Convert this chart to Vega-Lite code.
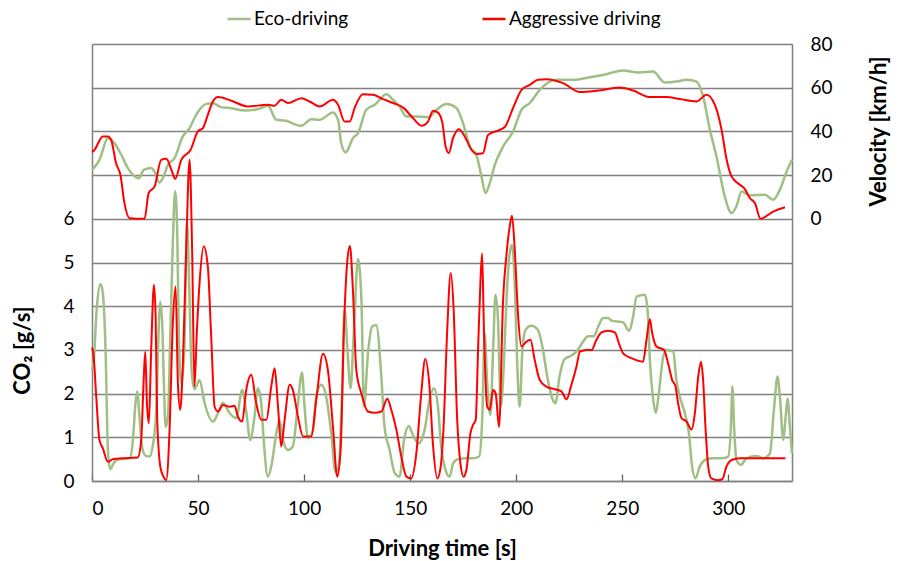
{
"$schema": "https://vega.github.io/schema/vega-lite/v6.json",
"width": 700, "height": 437,
"autosize": {"type": "none"},
"padding": {"left": 92, "top": 44, "right": 106, "bottom": 80},
"background": "white",
"config": {"view": {"stroke": null}, "font": "Lato",
 "axis": {"labelFont": "Lato", "titleFont": "Lato", "labelColor": "#000", "titleColor": "#000", "labelFontSize": 19, "titleFontSize": 22, "titleFontWeight": "bold"}},
"datasets": {
"ecoVel": [
{"t":0,"v":22.4,"s":"Eco-driving"},{"t":0.8,"v":23.2,"s":"Eco-driving"},{"t":3.5,"v":27,"s":"Eco-driving"},{"t":7.5,"v":36.9,"s":"Eco-driving"},{"t":10.6,"v":34.6,"s":"Eco-driving"},{"t":13.8,"v":29.3,"s":"Eco-driving"},{"t":16.9,"v":23.2,"s":"Eco-driving"},{"t":19.3,"v":20.1,"s":"Eco-driving"},{"t":22.1,"v":18.6,"s":"Eco-driving"},{"t":24.4,"v":22.4,"s":"Eco-driving"},{"t":27.9,"v":23.2,"s":"Eco-driving"},{"t":29.5,"v":21.5,"s":"Eco-driving"},{"t":31.8,"v":16.6,"s":"Eco-driving"},{"t":33.4,"v":18.6,"s":"Eco-driving"},{"t":35.8,"v":24.7,"s":"Eco-driving"},{"t":38.9,"v":27.8,"s":"Eco-driving"},{"t":42.8,"v":37.7,"s":"Eco-driving"},{"t":46,"v":41.5,"s":"Eco-driving"},{"t":48.3,"v":46.1,"s":"Eco-driving"},{"t":50.7,"v":49.9,"s":"Eco-driving"},{"t":53.9,"v":52.6,"s":"Eco-driving"},{"t":57,"v":52.9,"s":"Eco-driving"},{"t":60.9,"v":51.1,"s":"Eco-driving"},{"t":65.7,"v":50.6,"s":"Eco-driving"},{"t":71.9,"v":49.6,"s":"Eco-driving"},{"t":78.2,"v":50.2,"s":"Eco-driving"},{"t":82.9,"v":51.7,"s":"Eco-driving"},{"t":86.9,"v":45.3,"s":"Eco-driving"},{"t":90.8,"v":45,"s":"Eco-driving"},{"t":98.7,"v":42.6,"s":"Eco-driving"},{"t":103.4,"v":45.6,"s":"Eco-driving"},{"t":107.3,"v":45.3,"s":"Eco-driving"},{"t":113.6,"v":48.7,"s":"Eco-driving"},{"t":116,"v":45.3,"s":"Eco-driving"},{"t":117.5,"v":34.6,"s":"Eco-driving"},{"t":119.6,"v":30.4,"s":"Eco-driving"},{"t":123,"v":36.9,"s":"Eco-driving"},{"t":125.4,"v":39.2,"s":"Eco-driving"},{"t":129.3,"v":49.9,"s":"Eco-driving"},{"t":133.3,"v":52.2,"s":"Eco-driving"},{"t":138.8,"v":57,"s":"Eco-driving"},{"t":141.9,"v":54.5,"s":"Eco-driving"},{"t":145,"v":51.4,"s":"Eco-driving"},{"t":148.2,"v":46.8,"s":"Eco-driving"},{"t":152.1,"v":46.8,"s":"Eco-driving"},{"t":158.4,"v":46.5,"s":"Eco-driving"},{"t":162.4,"v":49.9,"s":"Eco-driving"},{"t":167.1,"v":52.5,"s":"Eco-driving"},{"t":171.8,"v":50.7,"s":"Eco-driving"},{"t":174.9,"v":43.8,"s":"Eco-driving"},{"t":178.1,"v":33.1,"s":"Eco-driving"},{"t":181.2,"v":29.3,"s":"Eco-driving"},{"t":183.6,"v":19.4,"s":"Eco-driving"},{"t":185.5,"v":11.8,"s":"Eco-driving"},{"t":187.5,"v":16.3,"s":"Eco-driving"},{"t":189.9,"v":24.7,"s":"Eco-driving"},{"t":193.8,"v":33.1,"s":"Eco-driving"},{"t":198.5,"v":40,"s":"Eco-driving"},{"t":202.5,"v":49.9,"s":"Eco-driving"},{"t":206.4,"v":53,"s":"Eco-driving"},{"t":211.1,"v":59,"s":"Eco-driving"},{"t":215,"v":62.4,"s":"Eco-driving"},{"t":219,"v":63.6,"s":"Eco-driving"},{"t":226.8,"v":63.6,"s":"Eco-driving"},{"t":234.7,"v":64.8,"s":"Eco-driving"},{"t":242.5,"v":66.2,"s":"Eco-driving"},{"t":250.4,"v":67.9,"s":"Eco-driving"},{"t":257.5,"v":67,"s":"Eco-driving"},{"t":264.5,"v":67.4,"s":"Eco-driving"},{"t":270,"v":62.4,"s":"Eco-driving"},{"t":275.6,"v":62.8,"s":"Eco-driving"},{"t":280.3,"v":63.6,"s":"Eco-driving"},{"t":285,"v":62.8,"s":"Eco-driving"},{"t":288.1,"v":56,"s":"Eco-driving"},{"t":291.3,"v":40.7,"s":"Eco-driving"},{"t":294.4,"v":28.5,"s":"Eco-driving"},{"t":298.3,"v":10.2,"s":"Eco-driving"},{"t":301.5,"v":2.6,"s":"Eco-driving"},{"t":303.9,"v":6,"s":"Eco-driving"},{"t":306.2,"v":12.5,"s":"Eco-driving"},{"t":310.1,"v":10.7,"s":"Eco-driving"},{"t":317.2,"v":11,"s":"Eco-driving"},{"t":321.1,"v":8.7,"s":"Eco-driving"},{"t":324.3,"v":13.3,"s":"Eco-driving"},{"t":327.5,"v":21.7,"s":"Eco-driving"},{"t":330,"v":27,"s":"Eco-driving"}
],
"aggVel": [
{"t":0,"v":30.7,"s":"Aggressive driving"},{"t":0.8,"v":31.1,"s":"Aggressive driving"},{"t":5.1,"v":37.7,"s":"Aggressive driving"},{"t":7.5,"v":37.7,"s":"Aggressive driving"},{"t":9,"v":36.2,"s":"Aggressive driving"},{"t":11.4,"v":25.2,"s":"Aggressive driving"},{"t":13.4,"v":20.1,"s":"Aggressive driving"},{"t":15.3,"v":7.2,"s":"Aggressive driving"},{"t":17.7,"v":0.3,"s":"Aggressive driving"},{"t":24.8,"v":0,"s":"Aggressive driving"},{"t":26.7,"v":11.8,"s":"Aggressive driving"},{"t":29.5,"v":14.8,"s":"Aggressive driving"},{"t":32.6,"v":27,"s":"Aggressive driving"},{"t":35,"v":27.5,"s":"Aggressive driving"},{"t":37.7,"v":21.7,"s":"Aggressive driving"},{"t":39.2,"v":18.2,"s":"Aggressive driving"},{"t":42.1,"v":27,"s":"Aggressive driving"},{"t":46.5,"v":31.6,"s":"Aggressive driving"},{"t":49.9,"v":40,"s":"Aggressive driving"},{"t":52.3,"v":41.5,"s":"Aggressive driving"},{"t":54.6,"v":47.6,"s":"Aggressive driving"},{"t":57,"v":53.7,"s":"Aggressive driving"},{"t":59.4,"v":55.7,"s":"Aggressive driving"},{"t":65.7,"v":54,"s":"Aggressive driving"},{"t":73.5,"v":51.4,"s":"Aggressive driving"},{"t":82.9,"v":52.2,"s":"Aggressive driving"},{"t":86,"v":51.7,"s":"Aggressive driving"},{"t":89.2,"v":54.5,"s":"Aggressive driving"},{"t":92.4,"v":53,"s":"Aggressive driving"},{"t":98.7,"v":55.2,"s":"Aggressive driving"},{"t":102.6,"v":53.7,"s":"Aggressive driving"},{"t":107.3,"v":51.4,"s":"Aggressive driving"},{"t":113.6,"v":54.5,"s":"Aggressive driving"},{"t":116,"v":52.2,"s":"Aggressive driving"},{"t":119.1,"v":44.5,"s":"Aggressive driving"},{"t":121.5,"v":44.5,"s":"Aggressive driving"},{"t":123.8,"v":50.7,"s":"Aggressive driving"},{"t":127.7,"v":57,"s":"Aggressive driving"},{"t":132.5,"v":56.8,"s":"Aggressive driving"},{"t":137.2,"v":54.8,"s":"Aggressive driving"},{"t":141.9,"v":53,"s":"Aggressive driving"},{"t":146.6,"v":51,"s":"Aggressive driving"},{"t":151.3,"v":46.1,"s":"Aggressive driving"},{"t":155.3,"v":42.6,"s":"Aggressive driving"},{"t":158.4,"v":44.5,"s":"Aggressive driving"},{"t":160.8,"v":49.4,"s":"Aggressive driving"},{"t":163.1,"v":48.6,"s":"Aggressive driving"},{"t":165.2,"v":43.8,"s":"Aggressive driving"},{"t":166.7,"v":33.1,"s":"Aggressive driving"},{"t":168.2,"v":30.1,"s":"Aggressive driving"},{"t":170.2,"v":36.9,"s":"Aggressive driving"},{"t":173,"v":41,"s":"Aggressive driving"},{"t":175.7,"v":37.7,"s":"Aggressive driving"},{"t":178.9,"v":31.6,"s":"Aggressive driving"},{"t":181.2,"v":29.7,"s":"Aggressive driving"},{"t":184.3,"v":30,"s":"Aggressive driving"},{"t":186.7,"v":38.4,"s":"Aggressive driving"},{"t":191.4,"v":40.4,"s":"Aggressive driving"},{"t":194.6,"v":42,"s":"Aggressive driving"},{"t":198.5,"v":50.7,"s":"Aggressive driving"},{"t":202.5,"v":59,"s":"Aggressive driving"},{"t":206.4,"v":61.3,"s":"Aggressive driving"},{"t":210.3,"v":63.6,"s":"Aggressive driving"},{"t":214.2,"v":63.9,"s":"Aggressive driving"},{"t":222.1,"v":62.1,"s":"Aggressive driving"},{"t":230,"v":58,"s":"Aggressive driving"},{"t":238.6,"v":58.7,"s":"Aggressive driving"},{"t":248.8,"v":60.1,"s":"Aggressive driving"},{"t":255.1,"v":58.7,"s":"Aggressive driving"},{"t":263,"v":55.7,"s":"Aggressive driving"},{"t":270.8,"v":55.7,"s":"Aggressive driving"},{"t":277.1,"v":54.8,"s":"Aggressive driving"},{"t":285,"v":53.7,"s":"Aggressive driving"},{"t":289.7,"v":56.8,"s":"Aggressive driving"},{"t":293.6,"v":52.2,"s":"Aggressive driving"},{"t":296.8,"v":40.7,"s":"Aggressive driving"},{"t":299.2,"v":27,"s":"Aggressive driving"},{"t":301.5,"v":19.4,"s":"Aggressive driving"},{"t":305.4,"v":15.6,"s":"Aggressive driving"},{"t":307.8,"v":13.6,"s":"Aggressive driving"},{"t":310.1,"v":9.5,"s":"Aggressive driving"},{"t":312.5,"v":7.2,"s":"Aggressive driving"},{"t":315.2,"v":0,"s":"Aggressive driving"},{"t":321.1,"v":3.3,"s":"Aggressive driving"},{"t":326.7,"v":5.3,"s":"Aggressive driving"}
],
"ecoCO2": [
{"t":0,"v":2.55,"s":"Eco-driving"},{"t":0.7,"v":2.69,"s":"Eco-driving"},{"t":2.3,"v":3.99,"s":"Eco-driving"},{"t":4,"v":4.51,"s":"Eco-driving"},{"t":5.1,"v":4.3,"s":"Eco-driving"},{"t":6.4,"v":3,"s":"Eco-driving"},{"t":7.5,"v":0.71,"s":"Eco-driving"},{"t":8.6,"v":0.27,"s":"Eco-driving"},{"t":10.6,"v":0.44,"s":"Eco-driving"},{"t":13,"v":0.5,"s":"Eco-driving"},{"t":17.7,"v":0.52,"s":"Eco-driving"},{"t":19.3,"v":0.94,"s":"Eco-driving"},{"t":20.5,"v":1.78,"s":"Eco-driving"},{"t":21.3,"v":2.05,"s":"Eco-driving"},{"t":22.4,"v":1.47,"s":"Eco-driving"},{"t":23.7,"v":0.75,"s":"Eco-driving"},{"t":25.5,"v":0.57,"s":"Eco-driving"},{"t":27.1,"v":0.56,"s":"Eco-driving"},{"t":28.7,"v":0.82,"s":"Eco-driving"},{"t":30.3,"v":1.63,"s":"Eco-driving"},{"t":31.1,"v":3,"s":"Eco-driving"},{"t":32.2,"v":4.1,"s":"Eco-driving"},{"t":33.1,"v":3.61,"s":"Eco-driving"},{"t":33.9,"v":2.24,"s":"Eco-driving"},{"t":34.7,"v":1.24,"s":"Eco-driving"},{"t":35.8,"v":1.47,"s":"Eco-driving"},{"t":36.9,"v":3.3,"s":"Eco-driving"},{"t":38.1,"v":5.44,"s":"Eco-driving"},{"t":39.2,"v":6.63,"s":"Eco-driving"},{"t":40.2,"v":5.67,"s":"Eco-driving"},{"t":40.9,"v":3.38,"s":"Eco-driving"},{"t":42.1,"v":2.24,"s":"Eco-driving"},{"t":43.5,"v":3,"s":"Eco-driving"},{"t":44.8,"v":5.9,"s":"Eco-driving"},{"t":45.8,"v":4.5,"s":"Eco-driving"},{"t":47,"v":2.5,"s":"Eco-driving"},{"t":48.3,"v":2.1,"s":"Eco-driving"},{"t":50.7,"v":2.31,"s":"Eco-driving"},{"t":53.1,"v":1.78,"s":"Eco-driving"},{"t":57,"v":1.36,"s":"Eco-driving"},{"t":59.4,"v":1.55,"s":"Eco-driving"},{"t":61.7,"v":1.79,"s":"Eco-driving"},{"t":64.9,"v":1.55,"s":"Eco-driving"},{"t":68,"v":1.44,"s":"Eco-driving"},{"t":70.8,"v":2.08,"s":"Eco-driving"},{"t":72.7,"v":1.6,"s":"Eco-driving"},{"t":74.6,"v":0.94,"s":"Eco-driving"},{"t":76.6,"v":1.47,"s":"Eco-driving"},{"t":78.2,"v":2.12,"s":"Eco-driving"},{"t":79.8,"v":1.78,"s":"Eco-driving"},{"t":81,"v":0.9,"s":"Eco-driving"},{"t":82.9,"v":0.1,"s":"Eco-driving"},{"t":84.5,"v":0.33,"s":"Eco-driving"},{"t":86.9,"v":1.09,"s":"Eco-driving"},{"t":88.4,"v":1.4,"s":"Eco-driving"},{"t":90,"v":0.94,"s":"Eco-driving"},{"t":92.4,"v":0.71,"s":"Eco-driving"},{"t":94.7,"v":0.79,"s":"Eco-driving"},{"t":96.8,"v":1.63,"s":"Eco-driving"},{"t":99,"v":2.48,"s":"Eco-driving"},{"t":100.2,"v":1.7,"s":"Eco-driving"},{"t":101.8,"v":0.98,"s":"Eco-driving"},{"t":104.2,"v":1.17,"s":"Eco-driving"},{"t":105.7,"v":1.93,"s":"Eco-driving"},{"t":108.1,"v":2.2,"s":"Eco-driving"},{"t":110.4,"v":1.93,"s":"Eco-driving"},{"t":112.8,"v":1.09,"s":"Eco-driving"},{"t":114.8,"v":0.21,"s":"Eco-driving"},{"t":116.3,"v":0.33,"s":"Eco-driving"},{"t":117.8,"v":1.85,"s":"Eco-driving"},{"t":119.1,"v":3.92,"s":"Eco-driving"},{"t":120.6,"v":2.85,"s":"Eco-driving"},{"t":121.9,"v":2.12,"s":"Eco-driving"},{"t":123.4,"v":3.38,"s":"Eco-driving"},{"t":125.4,"v":5.08,"s":"Eco-driving"},{"t":127,"v":4.15,"s":"Eco-driving"},{"t":128.2,"v":1.7,"s":"Eco-driving"},{"t":130.1,"v":2.92,"s":"Eco-driving"},{"t":132,"v":3.53,"s":"Eco-driving"},{"t":134,"v":3.57,"s":"Eco-driving"},{"t":136.4,"v":2.39,"s":"Eco-driving"},{"t":137.9,"v":1.24,"s":"Eco-driving"},{"t":140.3,"v":0.71,"s":"Eco-driving"},{"t":142.7,"v":0.18,"s":"Eco-driving"},{"t":145,"v":0.1,"s":"Eco-driving"},{"t":147.1,"v":0.94,"s":"Eco-driving"},{"t":149.3,"v":1.26,"s":"Eco-driving"},{"t":151.3,"v":1.05,"s":"Eco-driving"},{"t":154,"v":0.86,"s":"Eco-driving"},{"t":156.8,"v":1.17,"s":"Eco-driving"},{"t":159.1,"v":1.85,"s":"Eco-driving"},{"t":161.2,"v":2.12,"s":"Eco-driving"},{"t":163.1,"v":1.7,"s":"Eco-driving"},{"t":164.6,"v":0.79,"s":"Eco-driving"},{"t":166.2,"v":0.33,"s":"Eco-driving"},{"t":168.6,"v":0.1,"s":"Eco-driving"},{"t":170.2,"v":0.4,"s":"Eco-driving"},{"t":172.6,"v":0.5,"s":"Eco-driving"},{"t":176.5,"v":0.52,"s":"Eco-driving"},{"t":179.6,"v":0.52,"s":"Eco-driving"},{"t":182.5,"v":0.56,"s":"Eco-driving"},{"t":184,"v":1.47,"s":"Eco-driving"},{"t":185.1,"v":3.38,"s":"Eco-driving"},{"t":186.3,"v":2.24,"s":"Eco-driving"},{"t":187.8,"v":1.51,"s":"Eco-driving"},{"t":189.1,"v":3,"s":"Eco-driving"},{"t":190.2,"v":4.26,"s":"Eco-driving"},{"t":191.4,"v":3.69,"s":"Eco-driving"},{"t":192.7,"v":1.7,"s":"Eco-driving"},{"t":194.1,"v":2.62,"s":"Eco-driving"},{"t":195.4,"v":4.15,"s":"Eco-driving"},{"t":196.9,"v":5.21,"s":"Eco-driving"},{"t":198,"v":5.4,"s":"Eco-driving"},{"t":199.3,"v":4.53,"s":"Eco-driving"},{"t":200.5,"v":2.62,"s":"Eco-driving"},{"t":201.6,"v":1.7,"s":"Eco-driving"},{"t":202.9,"v":3,"s":"Eco-driving"},{"t":204.4,"v":3.46,"s":"Eco-driving"},{"t":207.1,"v":3.55,"s":"Eco-driving"},{"t":210.2,"v":3.46,"s":"Eco-driving"},{"t":212.6,"v":3,"s":"Eco-driving"},{"t":214.9,"v":2.31,"s":"Eco-driving"},{"t":217.3,"v":1.85,"s":"Eco-driving"},{"t":218.5,"v":1.78,"s":"Eco-driving"},{"t":220.4,"v":2.39,"s":"Eco-driving"},{"t":222.8,"v":2.79,"s":"Eco-driving"},{"t":225.2,"v":2.85,"s":"Eco-driving"},{"t":228.4,"v":2.96,"s":"Eco-driving"},{"t":231.5,"v":3.19,"s":"Eco-driving"},{"t":233.9,"v":3.31,"s":"Eco-driving"},{"t":236.5,"v":3.31,"s":"Eco-driving"},{"t":238.6,"v":3.53,"s":"Eco-driving"},{"t":241,"v":3.73,"s":"Eco-driving"},{"t":243.3,"v":3.73,"s":"Eco-driving"},{"t":244.9,"v":3.67,"s":"Eco-driving"},{"t":250.4,"v":3.63,"s":"Eco-driving"},{"t":253.1,"v":3.44,"s":"Eco-driving"},{"t":255.1,"v":3.76,"s":"Eco-driving"},{"t":256.7,"v":4.22,"s":"Eco-driving"},{"t":260.6,"v":4.26,"s":"Eco-driving"},{"t":261.9,"v":3.92,"s":"Eco-driving"},{"t":263,"v":2.77,"s":"Eco-driving"},{"t":264.6,"v":1.85,"s":"Eco-driving"},{"t":265.8,"v":1.56,"s":"Eco-driving"},{"t":267.2,"v":2,"s":"Eco-driving"},{"t":269.3,"v":2.85,"s":"Eco-driving"},{"t":270.8,"v":3,"s":"Eco-driving"},{"t":274,"v":2.96,"s":"Eco-driving"},{"t":275.5,"v":2.31,"s":"Eco-driving"},{"t":277.1,"v":1.93,"s":"Eco-driving"},{"t":279.5,"v":1.55,"s":"Eco-driving"},{"t":281.4,"v":1.09,"s":"Eco-driving"},{"t":282.9,"v":0.33,"s":"Eco-driving"},{"t":284.5,"v":0.06,"s":"Eco-driving"},{"t":286.5,"v":0.33,"s":"Eco-driving"},{"t":288.9,"v":0.48,"s":"Eco-driving"},{"t":292,"v":0.52,"s":"Eco-driving"},{"t":296.7,"v":0.52,"s":"Eco-driving"},{"t":299.9,"v":0.56,"s":"Eco-driving"},{"t":301.2,"v":1.24,"s":"Eco-driving"},{"t":301.9,"v":2.16,"s":"Eco-driving"},{"t":302.7,"v":1.24,"s":"Eco-driving"},{"t":303.8,"v":0.48,"s":"Eco-driving"},{"t":305.9,"v":0.37,"s":"Eco-driving"},{"t":308.5,"v":0.52,"s":"Eco-driving"},{"t":313.3,"v":0.57,"s":"Eco-driving"},{"t":316.4,"v":0.52,"s":"Eco-driving"},{"t":319.6,"v":0.63,"s":"Eco-driving"},{"t":321.6,"v":1.7,"s":"Eco-driving"},{"t":323.2,"v":2.39,"s":"Eco-driving"},{"t":324.4,"v":1.85,"s":"Eco-driving"},{"t":325.9,"v":0.94,"s":"Eco-driving"},{"t":327,"v":1.47,"s":"Eco-driving"},{"t":327.9,"v":1.89,"s":"Eco-driving"},{"t":329,"v":1.24,"s":"Eco-driving"},{"t":330,"v":0.63,"s":"Eco-driving"}
],
"aggCO2": [
{"t":0,"v":3.05,"s":"Aggressive driving"},{"t":0.7,"v":2.9,"s":"Aggressive driving"},{"t":2,"v":1.93,"s":"Aggressive driving"},{"t":3.5,"v":0.94,"s":"Aggressive driving"},{"t":5.1,"v":0.75,"s":"Aggressive driving"},{"t":7.5,"v":0.44,"s":"Aggressive driving"},{"t":9.8,"v":0.5,"s":"Aggressive driving"},{"t":14.5,"v":0.52,"s":"Aggressive driving"},{"t":21.6,"v":0.54,"s":"Aggressive driving"},{"t":23.2,"v":0.94,"s":"Aggressive driving"},{"t":24.3,"v":2.24,"s":"Aggressive driving"},{"t":25.1,"v":2.96,"s":"Aggressive driving"},{"t":25.9,"v":1.78,"s":"Aggressive driving"},{"t":26.8,"v":1.32,"s":"Aggressive driving"},{"t":27.9,"v":3,"s":"Aggressive driving"},{"t":29.2,"v":4.49,"s":"Aggressive driving"},{"t":30,"v":3.76,"s":"Aggressive driving"},{"t":30.7,"v":1.47,"s":"Aggressive driving"},{"t":32.2,"v":0.33,"s":"Aggressive driving"},{"t":33.7,"v":0.1,"s":"Aggressive driving"},{"t":35,"v":0.02,"s":"Aggressive driving"},{"t":36.5,"v":1.09,"s":"Aggressive driving"},{"t":38.1,"v":3.61,"s":"Aggressive driving"},{"t":39.4,"v":4.45,"s":"Aggressive driving"},{"t":40.5,"v":2.24,"s":"Aggressive driving"},{"t":41.6,"v":1.63,"s":"Aggressive driving"},{"t":42.8,"v":2.62,"s":"Aggressive driving"},{"t":44.4,"v":5.29,"s":"Aggressive driving"},{"t":46,"v":7.35,"s":"Aggressive driving"},{"t":47.2,"v":5.29,"s":"Aggressive driving"},{"t":48.3,"v":2.16,"s":"Aggressive driving"},{"t":49.4,"v":3.38,"s":"Aggressive driving"},{"t":50.7,"v":4.53,"s":"Aggressive driving"},{"t":52.7,"v":5.37,"s":"Aggressive driving"},{"t":54.6,"v":4.91,"s":"Aggressive driving"},{"t":56.2,"v":3.3,"s":"Aggressive driving"},{"t":57.8,"v":1.7,"s":"Aggressive driving"},{"t":59.4,"v":1.59,"s":"Aggressive driving"},{"t":61.7,"v":1.74,"s":"Aggressive driving"},{"t":64.9,"v":1.7,"s":"Aggressive driving"},{"t":67.2,"v":1.72,"s":"Aggressive driving"},{"t":68.8,"v":1.47,"s":"Aggressive driving"},{"t":70.8,"v":1.36,"s":"Aggressive driving"},{"t":72.7,"v":2.08,"s":"Aggressive driving"},{"t":75.1,"v":2.43,"s":"Aggressive driving"},{"t":77.4,"v":1.78,"s":"Aggressive driving"},{"t":79.8,"v":1.4,"s":"Aggressive driving"},{"t":82.2,"v":1.4,"s":"Aggressive driving"},{"t":84.5,"v":2.16,"s":"Aggressive driving"},{"t":86.1,"v":2.58,"s":"Aggressive driving"},{"t":87.7,"v":1.7,"s":"Aggressive driving"},{"t":89.2,"v":0.79,"s":"Aggressive driving"},{"t":90.8,"v":1.4,"s":"Aggressive driving"},{"t":93.2,"v":2.2,"s":"Aggressive driving"},{"t":94.7,"v":2.08,"s":"Aggressive driving"},{"t":97.1,"v":1.47,"s":"Aggressive driving"},{"t":99.5,"v":1.02,"s":"Aggressive driving"},{"t":103.4,"v":1.02,"s":"Aggressive driving"},{"t":105.7,"v":1.85,"s":"Aggressive driving"},{"t":108.9,"v":2.91,"s":"Aggressive driving"},{"t":111.2,"v":2.54,"s":"Aggressive driving"},{"t":113.6,"v":1.24,"s":"Aggressive driving"},{"t":115.6,"v":0.1,"s":"Aggressive driving"},{"t":117.2,"v":0.71,"s":"Aggressive driving"},{"t":118.8,"v":3.53,"s":"Aggressive driving"},{"t":120.4,"v":5.06,"s":"Aggressive driving"},{"t":121.6,"v":5.38,"s":"Aggressive driving"},{"t":123,"v":4.37,"s":"Aggressive driving"},{"t":124.6,"v":2.54,"s":"Aggressive driving"},{"t":127,"v":2,"s":"Aggressive driving"},{"t":130.1,"v":1.59,"s":"Aggressive driving"},{"t":133.3,"v":1.56,"s":"Aggressive driving"},{"t":136.4,"v":1.59,"s":"Aggressive driving"},{"t":139.2,"v":1.88,"s":"Aggressive driving"},{"t":141.1,"v":1.63,"s":"Aggressive driving"},{"t":143.5,"v":1.17,"s":"Aggressive driving"},{"t":145.8,"v":0.56,"s":"Aggressive driving"},{"t":148.2,"v":0.1,"s":"Aggressive driving"},{"t":150.5,"v":0.06,"s":"Aggressive driving"},{"t":152.9,"v":0.63,"s":"Aggressive driving"},{"t":155.2,"v":2,"s":"Aggressive driving"},{"t":157.1,"v":2.79,"s":"Aggressive driving"},{"t":159.1,"v":2.16,"s":"Aggressive driving"},{"t":160.7,"v":0.86,"s":"Aggressive driving"},{"t":162.8,"v":0.06,"s":"Aggressive driving"},{"t":164.3,"v":0.3,"s":"Aggressive driving"},{"t":165.7,"v":1.2,"s":"Aggressive driving"},{"t":167.4,"v":3.38,"s":"Aggressive driving"},{"t":169.1,"v":4.76,"s":"Aggressive driving"},{"t":170.5,"v":3.92,"s":"Aggressive driving"},{"t":172.1,"v":1.47,"s":"Aggressive driving"},{"t":173.7,"v":0.4,"s":"Aggressive driving"},{"t":175.2,"v":0.1,"s":"Aggressive driving"},{"t":176.5,"v":0.25,"s":"Aggressive driving"},{"t":178.4,"v":1.09,"s":"Aggressive driving"},{"t":179.6,"v":1.28,"s":"Aggressive driving"},{"t":180.9,"v":1.4,"s":"Aggressive driving"},{"t":182,"v":3,"s":"Aggressive driving"},{"t":183.1,"v":4.53,"s":"Aggressive driving"},{"t":183.9,"v":5.21,"s":"Aggressive driving"},{"t":184.8,"v":3.38,"s":"Aggressive driving"},{"t":186.3,"v":1.7,"s":"Aggressive driving"},{"t":187.5,"v":1.63,"s":"Aggressive driving"},{"t":189.1,"v":2.08,"s":"Aggressive driving"},{"t":190.3,"v":2,"s":"Aggressive driving"},{"t":191.9,"v":1.24,"s":"Aggressive driving"},{"t":193.8,"v":4.15,"s":"Aggressive driving"},{"t":195.4,"v":5.18,"s":"Aggressive driving"},{"t":196.9,"v":5.82,"s":"Aggressive driving"},{"t":198,"v":6.07,"s":"Aggressive driving"},{"t":199.3,"v":5.29,"s":"Aggressive driving"},{"t":200.9,"v":3.76,"s":"Aggressive driving"},{"t":202.4,"v":3.08,"s":"Aggressive driving"},{"t":204.8,"v":3.19,"s":"Aggressive driving"},{"t":206.7,"v":3.23,"s":"Aggressive driving"},{"t":208.7,"v":2.77,"s":"Aggressive driving"},{"t":211.1,"v":2.31,"s":"Aggressive driving"},{"t":214.2,"v":2.16,"s":"Aggressive driving"},{"t":218.2,"v":2.1,"s":"Aggressive driving"},{"t":221.3,"v":2.05,"s":"Aggressive driving"},{"t":223.7,"v":1.87,"s":"Aggressive driving"},{"t":226,"v":2.2,"s":"Aggressive driving"},{"t":228.4,"v":2.62,"s":"Aggressive driving"},{"t":230,"v":2.96,"s":"Aggressive driving"},{"t":233.1,"v":3,"s":"Aggressive driving"},{"t":235.5,"v":3,"s":"Aggressive driving"},{"t":237.8,"v":3.23,"s":"Aggressive driving"},{"t":240.2,"v":3.4,"s":"Aggressive driving"},{"t":243.3,"v":3.44,"s":"Aggressive driving"},{"t":246.5,"v":3.4,"s":"Aggressive driving"},{"t":248.4,"v":3.15,"s":"Aggressive driving"},{"t":250.4,"v":2.92,"s":"Aggressive driving"},{"t":254.3,"v":2.81,"s":"Aggressive driving"},{"t":259.8,"v":2.73,"s":"Aggressive driving"},{"t":261.4,"v":3.23,"s":"Aggressive driving"},{"t":263,"v":3.7,"s":"Aggressive driving"},{"t":264.1,"v":3.38,"s":"Aggressive driving"},{"t":266.1,"v":3.08,"s":"Aggressive driving"},{"t":269.7,"v":3,"s":"Aggressive driving"},{"t":271.6,"v":2.69,"s":"Aggressive driving"},{"t":273.5,"v":2.31,"s":"Aggressive driving"},{"t":275.1,"v":2.16,"s":"Aggressive driving"},{"t":276.3,"v":1.78,"s":"Aggressive driving"},{"t":277.9,"v":1.44,"s":"Aggressive driving"},{"t":280.3,"v":1.36,"s":"Aggressive driving"},{"t":282.6,"v":1.18,"s":"Aggressive driving"},{"t":284.2,"v":1.55,"s":"Aggressive driving"},{"t":285.8,"v":2.39,"s":"Aggressive driving"},{"t":287.1,"v":2.73,"s":"Aggressive driving"},{"t":288.1,"v":2.31,"s":"Aggressive driving"},{"t":289.2,"v":1.24,"s":"Aggressive driving"},{"t":290.5,"v":0.33,"s":"Aggressive driving"},{"t":292,"v":0.06,"s":"Aggressive driving"},{"t":295.2,"v":0.02,"s":"Aggressive driving"},{"t":297.1,"v":0.04,"s":"Aggressive driving"},{"t":299.1,"v":0.33,"s":"Aggressive driving"},{"t":301.5,"v":0.48,"s":"Aggressive driving"},{"t":305.4,"v":0.52,"s":"Aggressive driving"},{"t":312.5,"v":0.52,"s":"Aggressive driving"},{"t":320.4,"v":0.52,"s":"Aggressive driving"},{"t":326.9,"v":0.52,"s":"Aggressive driving"}
]
},
"encoding": {
 "x": {"field": "t", "type": "quantitative",
  "scale": {"domain": [0, 330], "nice": false, "zero": false},
  "axis": {"values": [0, 50, 100, 150, 200, 250, 300], "grid": false, "tickSize": -7, "tickColor": "#606060", "tickWidth": 1.3, "domainColor": "#808080", "domainWidth": 1.5, "labelPadding": 25, "title": "Driving time [s]", "titlePadding": 20}},
 "color": {"field": "s", "type": "nominal",
  "scale": {"domain": ["Eco-driving", "Aggressive driving"], "range": ["#a0bf84", "#ff0000"]},
  "legend": {"orient": "none", "legendX": 134, "legendY": -38, "direction": "horizontal", "title": null, "symbolType": "stroke", "symbolSize": 529, "symbolStrokeWidth": 2.5, "labelFont": "Lato", "labelFontSize": 19, "labelColor": "#000", "labelOffset": 2, "columnPadding": 128}}
},
"layer": [
 {"encoding": {"y": {"field": "v", "type": "quantitative",
   "scale": {"domain": [0, 10], "nice": false, "zero": false},
   "axis": {"orient": "left", "values": [0,1,2,3,4,5,6,7,8,9,10], "labelExpr": "datum.value <= 6 ? datum.label : ''", "ticks": false, "grid": true, "gridColor": "#808080", "gridWidth": 1.3, "domainColor": "#808080", "domainWidth": 1.5, "labelPadding": 18, "title": "CO₂ [g/s]", "titleAngle": 270, "titleX": -70, "titleY": 306, "titleAlign": "center", "titleBaseline": "middle"}}},
  "layer": [
   {"data": {"name": "ecoCO2"}, "mark": {"type": "line", "interpolate": "monotone", "strokeWidth": 2.5}},
   {"data": {"name": "aggCO2"}, "mark": {"type": "line", "interpolate": "monotone", "strokeWidth": 2}}
  ]},
 {"encoding": {"y": {"field": "v", "type": "quantitative",
   "scale": {"domain": [-120, 80], "nice": false, "zero": false},
   "axis": {"orient": "right", "values": [0, 20, 40, 60, 80], "ticks": false, "grid": false, "domainColor": "#808080", "domainWidth": 1.5, "labelPadding": 18, "title": "Velocity [km/h]", "titleAngle": 270, "titleX": 86, "titleY": 87, "titleAlign": "center", "titleBaseline": "middle"}}},
  "layer": [
   {"data": {"name": "ecoVel"}, "mark": {"type": "line", "interpolate": "monotone", "strokeWidth": 2.5}},
   {"data": {"name": "aggVel"}, "mark": {"type": "line", "interpolate": "monotone", "strokeWidth": 2}}
  ]}
],
"resolve": {"scale": {"y": "independent"}}
}
